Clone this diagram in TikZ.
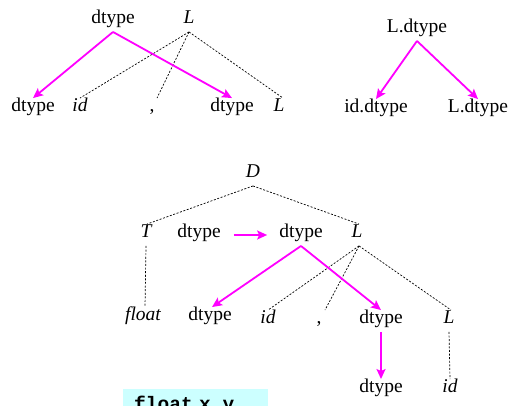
\documentclass[tikz,border=0pt]{standalone}
\usepackage{fontspec}
\setmainfont{Liberation Serif}
\setmonofont{Liberation Mono}
\usetikzlibrary{arrows.meta}
\definecolor{attr}{RGB}{255,0,255}
\definecolor{codebg}{RGB}{204,255,255}
\begin{document}
\begin{tikzpicture}[x=1pt,y=-1pt,
  lbl/.style={inner xsep=2pt,inner ysep=6pt,text height=0.7em,text depth=0.25em,
    font=\fontsize{19.5}{23}\selectfont},
  sym/.style={lbl,font=\fontsize{19.5}{23}\selectfont\itshape},
  dep/.style={attr,line width=1.8pt,-{Stealth[length=10pt,width=9pt,inset=2pt]}},
  tree/.style={black,line width=0.7pt,dash pattern=on 2pt off 1.6pt}]
\useasboundingbox (0,0) rectangle (511,405);
\clip (0,0) rectangle (511,405);

% production L -> , id L  : dtype passed down
\node[lbl] (a0) at (113,21) {dtype};
\node[sym] (aL) at (189,21) {L};
\node[lbl] (a1) at (33,109) {dtype};
\node[sym] (a2) at (80,109) {id};
\node[lbl] (a3) at (152,109) {,};
\node[lbl] (a4) at (232,109) {dtype};
\node[sym] (a5) at (279,109) {L};
\draw[tree] (aL.south) -- (a2.north);
\draw[tree] (aL.south) -- ([xshift=5pt]a3.north);
\draw[tree] (aL.south) -- ([xshift=4pt]a5.north);
\draw[dep] (a0.south) -- (a1.north);
\draw[dep] (a0.south) -- (a4.north);

% semantic rule view
\node[lbl] (b0) at (417,30) {L.dtype};
\node[lbl] (b1) at (376,110) {id.dtype};
\node[lbl] (b2) at (478,110) {L.dtype};
\draw[dep] (b0.south) -- (b1.north);
\draw[dep] (b0.south) -- (b2.north);

% annotated parse tree for the declaration
\node[sym] (D) at (253,175) {D};
\node[sym] (T) at (146,235) {T};
\node[lbl] (t1) at (199,235) {dtype};
\node[lbl] (t2) at (301,235) {dtype};
\node[sym] (L1) at (357,235) {L};
\node[sym] (fl) at (143,318) {float};
\node[lbl] (t3) at (210,318) {dtype};
\node[sym] (id1) at (268,321) {id};
\node[lbl] (cm) at (319,321) {,};
\node[lbl] (t4) at (381,321) {dtype};
\node[sym] (L2) at (449,321) {L};
\node[lbl] (t5) at (381,390) {dtype};
\node[sym] (id2) at (450,390) {id};

\draw[tree] (D.south) -- ([xshift=1pt]T.north);
\draw[tree] (D.south) -- ([xshift=2pt]L1.north);
\draw[tree] (T.south) -- ([xshift=2pt]fl.north);
\draw[tree] ([xshift=2pt]L1.south) -- (id1.north);
\draw[tree] ([xshift=2pt]L1.south) -- ([xshift=6pt]cm.north);
\draw[tree] ([xshift=2pt]L1.south) -- ([xshift=2pt]L2.north);
\draw[tree] (L2.south) -- (id2.north);

\draw[dep,shorten <=11pt,shorten >=10pt] (t1.east) -- (t2.west);
\draw[dep] (t2.south) -- ([xshift=2pt]t3.north);
\draw[dep] (t2.south) -- (t4.north);
\draw[dep] (t4.south) -- (t5.north);

% source fragment
\node[fill=codebg,anchor=north west,text width=123pt,minimum height=40pt,
  inner xsep=11pt,inner ysep=5pt,text height=0.75em,align=left,
  font=\fontsize{19.5}{23}\selectfont\ttfamily\bfseries] (code) at (123,389) {float x,y};
\end{tikzpicture}
\end{document}
